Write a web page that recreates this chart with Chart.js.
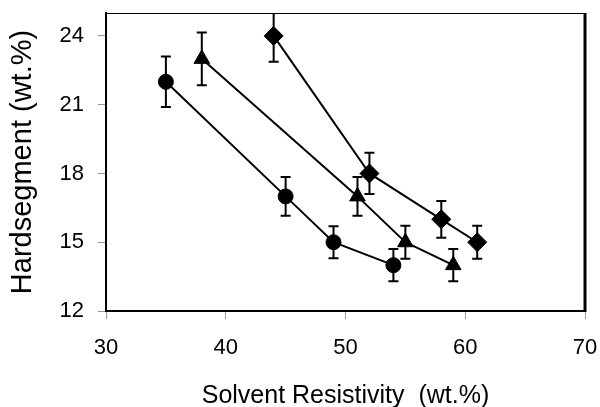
<!DOCTYPE html>
<html>
<head>
<meta charset="utf-8">
<script src="https://cdn.jsdelivr.net/npm/chart.js@4.4.1/dist/chart.umd.min.js"></script>
<style>
  html, body { margin: 0; padding: 0; background: #fff; }
  #wrap { width: 600px; height: 407px; position: relative; }
</style>
</head>
<body>
<div id="wrap"><canvas id="c"></canvas></div>
<script>
// Solvent resistivity (x) vs hard-segment content (y), three sample families
const xCircle = [35, 45, 49, 54];
const yCircle = [22, 17, 15, 14];
const errCircle = [1.1, 0.85, 0.7, 0.7];

const xTriangle = [38, 51, 55, 59];
const yTriangle = [23, 17, 15, 14];
const errTriangle = [1.15, 0.85, 0.72, 0.7];

const xDiamond = [44, 52, 58, 61];
const yDiamond = [24, 18, 16, 15];
const errDiamond = [1.13, 0.9, 0.8, 0.72];

const xTicks = [30, 40, 50, 60, 70];
const yTicks = [12, 15, 18, 21, 24];

const FONT = "'Liberation Sans', Arial, sans-serif";

function toPoints(xs, ys, errs) {
  return xs.map((x, i) => ({ x: x, y: ys[i], err: errs[i] }));
}

// vertical error bars with end caps, clipped to the plot area
const errorBars = {
  id: 'errorBars',
  afterDatasetsDraw(chart) {
    const { ctx, chartArea, scales } = chart;
    ctx.save();
    ctx.beginPath();
    ctx.rect(chartArea.left, chartArea.top, chartArea.right - chartArea.left, chartArea.bottom - chartArea.top);
    ctx.clip();
    ctx.strokeStyle = '#000';
    ctx.lineWidth = 2;
    const cap = 5;
    chart.data.datasets.forEach(ds => {
      ds.data.forEach(p => {
        const px = scales.x.getPixelForValue(p.x);
        const top = scales.y.getPixelForValue(p.y + p.err);
        const bot = scales.y.getPixelForValue(p.y - p.err);
        ctx.beginPath();
        ctx.moveTo(px, top); ctx.lineTo(px, bot);
        ctx.moveTo(px - cap, top); ctx.lineTo(px + cap, top);
        ctx.moveTo(px - cap, bot); ctx.lineTo(px + cap, bot);
        ctx.stroke();
      });
    });
    ctx.restore();
  }
};

// frame around the plot area
const frame = {
  id: 'frame',
  afterDraw(chart) {
    const { ctx, chartArea: a } = chart;
    ctx.save();
    ctx.strokeStyle = '#000';
    ctx.lineWidth = 1;
    ctx.beginPath();
    ctx.moveTo(a.left, a.top + 0.5); ctx.lineTo(a.right, a.top + 0.5);
    ctx.stroke();
    ctx.lineWidth = 3;
    ctx.beginPath();
    ctx.moveTo(a.right, a.top); ctx.lineTo(a.right, a.bottom + 1);
    ctx.stroke();
    ctx.restore();
  }
};

const seriesStyle = {
  showLine: true,
  borderColor: '#000',
  backgroundColor: '#000',
  borderWidth: 2,
  pointBackgroundColor: '#000',
  pointBorderColor: '#000',
  pointBorderWidth: 1,
  tension: 0
};

new Chart(document.getElementById('c'), {
  type: 'scatter',
  data: {
    datasets: [
      Object.assign({ label: 'Circle', data: toPoints(xCircle, yCircle, errCircle), pointStyle: 'circle', pointRadius: 7.5 }, seriesStyle),
      Object.assign({ label: 'Triangle', data: toPoints(xTriangle, yTriangle, errTriangle), pointStyle: 'triangle', pointRadius: 9 }, seriesStyle),
      Object.assign({ label: 'Diamond', data: toPoints(xDiamond, yDiamond, errDiamond), pointStyle: 'rectRot', pointRadius: 9.5 }, seriesStyle)
    ]
  },
  options: {
    responsive: true,
    maintainAspectRatio: false,
    animation: false,
    layout: { padding: 0 },
    plugins: {
      legend: { display: false },
      tooltip: { enabled: false }
    },
    scales: {
      x: {
        type: 'linear',
        min: 30, max: 70,
        afterBuildTicks: s => { s.ticks = xTicks.map(v => ({ value: v })); },
        afterFit: s => { s.height = 96; s.paddingLeft = 0; s.paddingRight = 15; },
        grid: { drawOnChartArea: false, drawTicks: true, tickLength: 8, color: '#999', lineWidth: 1 },
        border: { display: true, color: '#000', width: 2 },
        ticks: { color: '#000', font: { family: FONT, size: 22 }, padding: 16, maxRotation: 0 },
        title: { display: true, text: 'Solvent Resistivity  (wt.%)', color: '#000', font: { family: FONT, size: 25 }, padding: { top: 0, bottom: -4 } }
      },
      y: {
        type: 'linear',
        min: 12, max: 25,
        afterBuildTicks: s => { s.ticks = yTicks.map(v => ({ value: v })); },
        afterFit: s => { s.width = 106; s.paddingTop = 13; s.paddingBottom = 0; },
        grid: { drawOnChartArea: false, drawTicks: true, tickLength: 8, color: '#999', lineWidth: 1 },
        border: { display: true, color: '#000', width: 2 },
        ticks: { color: '#000', font: { family: FONT, size: 22 }, padding: 14 },
        title: { display: true, text: 'Hardsegment (wt.%)', color: '#000', font: { family: FONT, size: 29 }, padding: { top: 6, bottom: 0 } }
      }
    }
  },
  plugins: [errorBars, frame]
});
</script>
</body>
</html>
